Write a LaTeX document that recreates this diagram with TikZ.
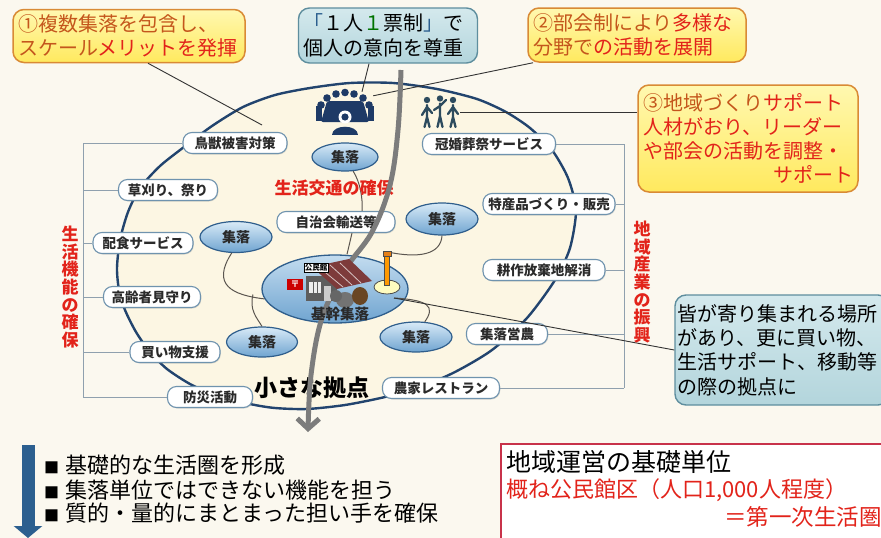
\documentclass[tikz,border=0pt]{standalone}
\usepackage{fontspec}
\setmainfont{Noto Sans CJK JP}
\usetikzlibrary{arrows.meta,shapes.geometric,shadows}

\newcommand\jfs[2]{\fontsize{#1}{#2}\selectfont}

\definecolor{bg}{HTML}{FBF8EF}
\definecolor{ringfill}{HTML}{FCF6E3}
\definecolor{ring}{HTML}{22446E}
\definecolor{pillc}{HTML}{6F93AE}
\definecolor{txtc}{HTML}{2A2A2A}
\definecolor{ellc}{HTML}{2F5E8C}
\definecolor{ellt}{HTML}{D8EAF7}
\definecolor{ellb}{HTML}{6FA4D0}
\definecolor{redt}{HTML}{E2231A}
\definecolor{brownt}{HTML}{C4561C}
\definecolor{yel1}{HTML}{FFF8B0}
\definecolor{yel2}{HTML}{FFE95E}
\definecolor{orgc}{HTML}{D98A35}
\definecolor{teal1}{HTML}{D4E9ED}
\definecolor{teal2}{HTML}{B3D5DC}
\definecolor{tealc}{HTML}{5E8E9E}
\definecolor{brk}{HTML}{8FA0AE}
\definecolor{arrowg}{HTML}{7C7C7C}
\definecolor{navy}{HTML}{1E3A66}
\definecolor{figc}{HTML}{2D4B5E}
\definecolor{bluearrow}{HTML}{2C5F8F}
\definecolor{boxred}{HTML}{C8324A}
\definecolor{linkc}{HTML}{5B5650}
\definecolor{roofc}{HTML}{7D3B3B}
\definecolor{wallc}{HTML}{5E5E5E}

\begin{document}
\begin{tikzpicture}[x=1pt,y=-1pt,
  pill/.style={draw=pillc, line width=1.1pt, fill=white, rounded corners=9pt,
    minimum height=21pt, inner xsep=4pt, inner ysep=1pt,
    font=\jfs{13.5}{15}\bfseries, text=txtc,
    drop shadow={shadow xshift=0.8pt, shadow yshift=-1pt, opacity=0.25}},
  shuraku/.style={ellipse, draw=ellc, line width=1.2pt, top color=ellt,
    bottom color=ellb, inner sep=0pt, font=\jfs{14}{14}\bfseries, text=txtc},
  link/.style={draw=linkc, line width=1pt},
  callline/.style={draw=black!80, line width=0.9pt},
  brkline/.style={draw=brk, line width=0.9pt},
  ycall/.style={draw=orgc, line width=1.5pt, rounded corners=11pt,
    top color=yel1, bottom color=yel2, align=left, inner xsep=5pt,
    inner ysep=3pt, font=\jfs{20}{24}},
  tcall/.style={draw=tealc, line width=1.4pt, rounded corners=11pt,
    top color=teal1, bottom color=teal2, align=left, inner xsep=5pt,
    inner ysep=3pt, font=\jfs{20.5}{24.4}, text=black},
  redlbl/.style={text=redt, font=\jfs{17}{17.6}\bfseries, align=center, inner sep=0pt},
]
% page
\fill[bg] (0,0) rectangle (881,538);
\useasboundingbox (0,0) rectangle (881,538);

% the ring of the small hub
\filldraw[fill=ringfill, draw=ring, line width=2.4pt]
  plot[smooth cycle, tension=0.45] coordinates {(117,268) (120,240) (128,212)
  (140,188) (160,166) (184,147) (212,126) (243,107) (275,95) (310,88) (350,83)
  (393,83) (437,89) (477,99) (506,112) (530,128) (552,150) (568,178) (576,210)
  (570,248) (555,280) (527,318) (492,350) (455,372) (420,387) (385,397)
  (345,405) (307,409) (275,408) (250,404) (215,395) (190,384) (167,369)
  (150,352) (136,332) (125,310) (119,290)};

% activity labels on the ring
\node[pill, minimum width=104pt] (chouju)   at (235,143) {鳥獣被害対策};
\node[pill, minimum width=99pt]  (kusakari) at (168,190) {草刈り、祭り};
\node[pill, minimum width=100pt] (haishoku) at (143,243) {配食サービス};
\node[pill, minimum width=97pt]  (kourei)   at (152,297) {高齢者見守り};
\node[pill, minimum width=90pt]  (kaimono)  at (175,352) {買い物支援};
\node[pill, minimum width=85pt]  (bousai)   at (210,397) {防災活動};
\node[pill, minimum width=133pt] (kankon)   at (489,144) {冠婚葬祭サービス};
\node[pill, minimum width=132pt] (tokusan)  at (549,204) {特産品づくり・販売};
\node[pill, minimum width=122pt] (kousaku)  at (544,270) {耕作放棄地解消};
\node[pill, minimum width=81pt]  (eino)     at (507,334) {集落営農};
\node[pill, minimum width=117pt] (nouka)    at (441,388) {農家レストラン};
\node[pill, minimum width=118pt] (jichi)    at (336,222) {自治会輸送等};

% settlements
\node[shuraku, minimum width=66pt, minimum height=28pt] (sT)  at (345,157) {集落};
\node[shuraku, minimum width=72pt, minimum height=32pt] (sR)  at (442,219) {集落};
\node[shuraku, minimum width=72pt, minimum height=31pt] (sL)  at (236,237) {集落};
\node[shuraku, minimum width=71pt, minimum height=30pt] (sLL) at (262,342) {集落};
\node[shuraku, minimum width=72pt, minimum height=30pt] (sLR) at (416,337) {集落};
\node[ellipse, draw=ellc, line width=1.3pt, top color=ellt!80!ellb, bottom color=ellb,
  minimum width=146pt, minimum height=68pt] (base) at (335,289) {};

% brackets
\coordinate (bL) at (83,0);
\coordinate (bR) at (624,0);
\draw[brkline] (chouju.west -| bL) -- (bousai.west -| bL);
\foreach \n in {chouju,kusakari,haishoku,kourei,kaimono,bousai}
  \draw[brkline] (\n.west) -- (\n.west -| bL);
\draw[brkline] (kankon.east -| bR) -- (nouka.east -| bR);
\foreach \n in {kankon,tokusan,kousaku,eino,nouka}
  \draw[brkline] (\n.east) -- (\n.east -| bR);

% callouts
\node[ycall, text width=222pt, minimum height=53pt] (c1) at (129,36)
  {{\color{brownt}①複数集落を包含し、}\\{\color{brownt}スケール}{\color{redt}メリットを発揮}};
\node[ycall, text width=208pt, minimum height=54pt] (c2) at (637,35)
  {{\color{brownt}②部会制により}{\color{redt}多様な}\\{\color{brownt}分野で}{\color{redt}の活動を展開}};
\node[tcall, text width=169pt, minimum height=55pt, font=\jfs{20}{24.5}] (cv) at (388,35.5)
  {{\color{bluearrow}「}１人{\color{green!45!black}１}票制{\color{bluearrow}」}で\\個人の意向を尊重};
\node[ycall, text width=210pt, minimum height=107pt] (c3) at (748,138.5)
  {{\color{brownt}③地域づくり}{\color{redt}サポート}\\{\color{redt}人材がおり、リーダー}\\{\color{redt}や部会の活動を調整・}\\\mbox{}\hfill{\color{redt}サポート}};
\node[tcall, text width=209pt, minimum height=110pt, inner xsep=2.5pt, font=\jfs{20}{24.4}] (c4) at (782,350)
  {皆が寄り集まれる場所\\があり、更に買い物、\\生活サポート、移動等\\の際の拠点に};

% icons: meeting and people
\node[minimum width=56pt, minimum height=42pt, inner sep=0pt] (meet) at (345,113) {};
\node[minimum width=40pt, minimum height=32pt, inner sep=0pt] (ppl) at (440,112) {};
\fill[navy, rounded corners=2pt] (327,101) -- (363,101) -- (369,122) -- (321,122) -- cycle;
\foreach \hx/\hy in {321/105, 327/98, 336/94, 345/92.5, 354/94, 363/98, 369/105}
  \fill[navy] (\hx,\hy) circle[radius=3.8];
\fill[navy] (316,106) rectangle (322,121);
\fill[navy] (368,106) rectangle (374,121);
\fill[white] (345,117) circle[radius=6.5];
\fill[navy] (345,117) circle[radius=3.6];
\fill[navy] (332,135) .. controls (332,124) and (358,124) .. (358,135) -- cycle;
\begin{scope}[draw=figc, line width=2.3pt, line cap=round]
  \fill[figc] (427,100) circle[radius=3.2];
  \draw (427,105) -- (427,117) (427,117) -- (424.5,127) (427,117) -- (429.5,127)
        (427,107) -- (422,115) (427,107) -- (432,113);
  \fill[figc] (440,98.5) circle[radius=3.2];
  \draw (440,103.5) -- (440,116) (440,116) -- (437.5,127) (440,116) -- (442.5,127)
        (440,106) -- (434,110) (440,106) -- (446,100);
  \fill[figc] (453,100) circle[radius=3.2];
  \draw (453,105) -- (453,117) (453,117) -- (450.5,127) (453,117) -- (455.5,127)
        (453,107) -- (448,114) (453,107) -- (458,114);
\end{scope}

% pole of the hub
\node[minimum width=6pt, minimum height=32pt, inner sep=0pt] (pole) at (387,268) {};
\coordinate (hub) at (394,298);
\coordinate (p1) at (262,125);
\coordinate (jL) at (253,294.5);

% links between settlements and the hub
\draw[link] (sL.255) .. controls (211,285) and (232,295) .. (base.188);
\draw[link] (jL) .. controls (249,310) and (257,318) .. (sLL.north);
\draw[link] (sT.-60) .. controls (360,182) and (363,198) .. ([xshift=26pt]jichi.north);
\draw[link] ([xshift=16pt]jichi.south) -- ([xshift=12pt]base.north);
\draw[link] (sR.south) .. controls (441,254) and (420,259) .. (pole.north);
\draw[link] (hub) .. controls (428,300) and (436,306) .. (sLR.60);

% callout leaders
\draw[callline] ([xshift=19pt]c1.south) -- (p1);
\draw[callline] ([xshift=-19pt]cv.south) -- ([xshift=17pt]meet.north);
\draw[callline] ([xshift=-104pt]c2.south) -- ([yshift=-4pt]meet.north east);
\draw[callline] (ppl.east) -- (ppl.east -| c3.west);
\draw[callline] (hub) -- (c4.west);

% red headings and captions
\node[redlbl] (koutsuu) at (334,188) {生活交通の確保};
\node[redlbl] (kinou) at (70,287) {生\\活\\機\\能\\の\\確\\保};
\node[redlbl] (sangyo) at (642,282) {地\\域\\産\\業\\の\\振\\興};
\node[font=\jfs{23}{23}\bfseries, text=black, inner sep=0pt] (kyoten) at (312,388) {小さな拠点};

% traffic axis
\draw[arrowg, line width=5pt, -{Straight Barb[length=10pt, width=22pt]}]
  plot[smooth, tension=0.6] coordinates {(401,70) (398,130) (390,185) (372,232)
  (345,270) (322,318) (311,375) (308,432)};

% hub building, post box and pole
\fill[wallc] (306,276) rectangle (337,301);
\fill[white!85!gray] (309,282) rectangle (321,293);
\draw[wallc, line width=0.8pt] (313,282) -- (313,293) (317,282) -- (317,293);
\fill[gray!40] (324,286) rectangle (331,301);
\fill[roofc] (312,267) -- (349,259) -- (372,281) -- (337,289) -- cycle;
\draw[white!70!roofc, line width=0.8pt] (320,268) -- (343,287) (330,265) -- (352,285) (340,263) -- (361,283);
\fill[black!55] (345,300) ellipse [x radius=9, y radius=8];
\fill[black!45!brown] (360,296) ellipse [x radius=8, y radius=9];
\fill[black!60] (336,296) ellipse [x radius=6, y radius=6];
\node[fill=white, draw=black, inner sep=0.8pt, font=\jfs{7.5}{8}\bfseries] (kmk) at (316,268) {公民館};
\node[fill=red!80!black, text=white, minimum width=16pt, minimum height=11pt, inner sep=0pt,
  font=\jfs{9}{9}\bfseries] (post) at (295,284) {〒};
\filldraw[fill=yellow!25, draw=black!70, line width=0.8pt] (387,287) ellipse [x radius=13, y radius=7];
\filldraw[fill=orange!80!yellow, draw=black!70, line width=0.6pt] (384.6,254) rectangle (389.4,285);
\filldraw[fill=orange!60!brown, draw=black!70, line width=0.6pt] (383,251) rectangle (391,256);
\node[font=\jfs{14.5}{14.5}\bfseries, text=txtc, inner sep=0pt] (kikan) at (340,314) {基幹集落};

% lower left: downward arrow and list
\coordinate (ba1) at (28,445);
\coordinate (ba2) at (28,538);
\draw[bluearrow, line width=13pt, -{Triangle[length=12pt, width=28pt]}] (ba1) -- (ba2);
\begin{scope}[every node/.style={anchor=west, inner sep=0pt, font=\jfs{22}{22}, text=black}]
  \node (li1) at (44,465) {{\jfs{15}{15}■}\hspace{6pt}基礎的な生活圏を形成};
  \node (li2) at (44,490) {{\jfs{15}{15}■}\hspace{6pt}集落単位ではできない機能を担う};
  \node (li3) at (44,513.5) {{\jfs{15}{15}■}\hspace{6pt}質的・量的にまとまった担い手を確保};
\end{scope}

% lower right: unit box
\node[draw=boxred, line width=1.5pt, fill=white, minimum width=390pt, minimum height=102pt,
  anchor=north west, inner sep=0pt] (unit) at (500,443) {};
\node[anchor=west, inner sep=0pt, font=\jfs{25}{25}, text=black] (u1) at (506,462) {地域運営の基礎単位};
\node[anchor=west, inner sep=0pt, font=\jfs{22}{22}, text=redt] (u2) at (506,490) {概ね公民館区（人口1,000人程度）};
\node[anchor=east, inner sep=0pt, font=\jfs{22.5}{22.5}, text=redt] (u3) at (882,517) {＝第一次生活圏};
\end{tikzpicture}
\end{document}
